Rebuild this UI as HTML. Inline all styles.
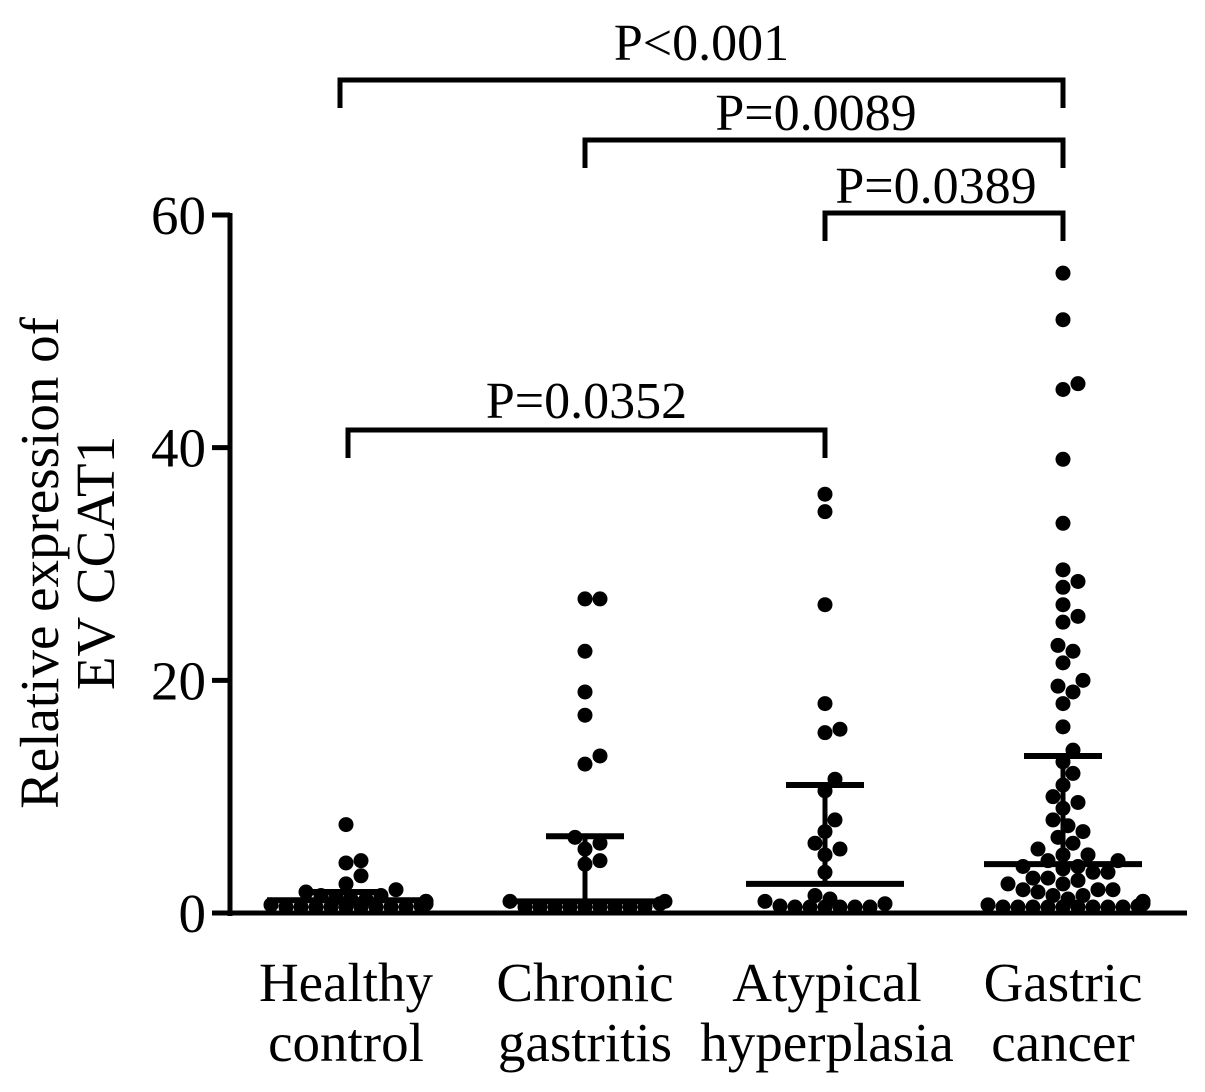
<!DOCTYPE html>
<html><head><meta charset="utf-8"><style>
html,body{margin:0;padding:0;background:#fff}
svg{display:block}
text{font-family:"Liberation Serif",serif;fill:#000}
</style></head><body>
<svg id="chart" width="1205" height="1092" viewBox="0 0 1205 1092" xmlns="http://www.w3.org/2000/svg">
<g id="axes"></g><g id="marks"></g><g id="brackets"></g>
</svg>
<script>
const categories = [["Healthy","control"],["Chronic","gastritis"],["Atypical","hyperplasia"],["Gastric","cancer"]];
const healthyValues = [7.6,4.5,4.3,3.2,2.5,2,1.8,1.5,1.5,1.3,1.2,1.2,1.0,1.0,0.9,0.8,0.8,0.7,0.6,0.5,0.5,0.4,0.3,0.3,0.2,0.2,0.1,0.1];
const chronicValues = [27,27,22.5,19,17,13.5,12.8,6.5,6,5.5,4.5,4.2,1,1,0.8,0.5,0.4,0.3,0.2,0.2,0.1,0.1,0.1,0.1];
const atypicalValues = [36,34.5,26.5,18,15.8,15.5,11.5,10.5,8,7,6,5.5,5,3.5,1.5,1.2,1,0.8,0.6,0.5,0.3,0.2,0.1,0.1,0.2];
const gastricValues = [55,51,45.5,45,39,33.5,29.5,28.5,28,26.5,25.5,25,23,22.5,21.5,20,19.5,19,18,16,14,13,12,11,10,9.5,9,8,7.5,7,6.5,6,5.5,5,5,4.5,4.5,4,4,3.8,3.5,3.5,3,3,2.8,2.5,2.5,2,2,2,1.8,1.5,1.5,1.2,1,1,0.8,0.6,0.5,0.5,0.4,0.3,0.2,0.2,0.1,0.1,0.3,0.7];
const medians = [1.1,1.0,2.5,4.2];
const uppers = [1.8,6.6,11.0,13.5];
const yTicks = [0,20,40,60];
const comparisons = [
  {a:0,b:3,label:"P<0.001",level:0},
  {a:1,b:3,label:"P=0.0089",level:1},
  {a:2,b:3,label:"P=0.0389",level:2},
  {a:0,b:2,label:"P=0.0352",level:3}
];
const groups = [healthyValues,chronicValues,atypicalValues,gastricValues];
const NS="http://www.w3.org/2000/svg";
function y(v){return 913 - v*(698/60);}
function x(i){return [346,585,825,1063][i];}
function mk(tag,attrs,parent){const e=document.createElementNS(NS,tag);for(const k in attrs)e.setAttribute(k,attrs[k]);parent.appendChild(e);return e;}
const axes=document.getElementById('axes'),marks=document.getElementById('marks'),br=document.getElementById('brackets');
let e;
e=mk('line',{x1:230,y1:213,x2:230,y2:916,stroke:'#000','stroke-width':5},axes);


e=mk('line',{x1:228,y1:913,x2:1187,y2:913,stroke:'#000','stroke-width':5},axes);


yTicks.forEach(t=>{
  e=mk('line',{x1:212,y1:y(t),x2:230,y2:y(t),stroke:'#000','stroke-width':5},axes);
  
  
  e=mk('text',{x:206,y:y(t)+19,'text-anchor':'end','font-size':55},axes);
  e.textContent=t;
  
  
});
e=mk('text',{transform:'translate(58,563) rotate(-90)','text-anchor':'middle','font-size':55},axes);
e.textContent='Relative expression of';


e=mk('text',{transform:'translate(114,563) rotate(-90)','text-anchor':'middle','font-size':55},axes);
e.textContent='EV CCAT1';


categories.forEach((c,i)=>{
  c.forEach((s,j)=>{
    e=mk('text',{x:x(i)+(i===2?2:0),y:1001+j*60,'text-anchor':'middle','font-size':55},axes);
    e.textContent=s;
    
    
  });
});
const R=7.5;
groups.forEach((vals,gi)=>{
  const sorted=vals.slice().sort((a,b)=>a-b);
  const placed=[];
  sorted.forEach(v=>{
    const py=y(v);let off=0;
    for(let k=0;k<60;k++){
      const o=(k%2?1:-1)*Math.ceil(k/2)*5;
      if(Math.abs(o)>80){off=(k%2?1:-1)*80;break;}
      if(placed.every(p=>Math.hypot(p[0]-o,p[1]-py)>=2*R-2)){off=o;break;}
    }
    placed.push([off,py]);
    e=mk('circle',{cx:x(gi)+off,cy:Math.min(py,907),r:R,fill:'#000'},marks);
    
    
  });
  e=mk('line',{x1:x(gi),y1:y(medians[gi]),x2:x(gi),y2:y(uppers[gi]),stroke:'#000','stroke-width':5},marks);
  
  
  e=mk('line',{x1:x(gi)-79,y1:y(medians[gi]),x2:x(gi)+79,y2:y(medians[gi]),stroke:'#000','stroke-width':6},marks);
  
  
  e=mk('line',{x1:x(gi)-39,y1:y(uppers[gi]),x2:x(gi)+39,y2:y(uppers[gi]),stroke:'#000','stroke-width':6},marks);
  
  
});
const levelY=[80,140,213,430];
const labelY=[60,130,203,418];
comparisons.forEach(c=>{
  const by=levelY[c.level];
  const x1=c.a===0&&c.b===3?340:x(c.a)+(c.a===0?2:0), x2=x(c.b);
  e=mk('path',{d:`M${x1},${by+28}V${by}H${x2}V${by+28}`,fill:'none',stroke:'#000','stroke-width':5},br);
  
  
  e=mk('text',{x:(x1+x2)/2+(c.level===1||c.level===2?-8:0),y:labelY[c.level],'text-anchor':'middle','font-size':52},br);
  e.textContent=c.label;
  
  
});
</script>
</body></html>
